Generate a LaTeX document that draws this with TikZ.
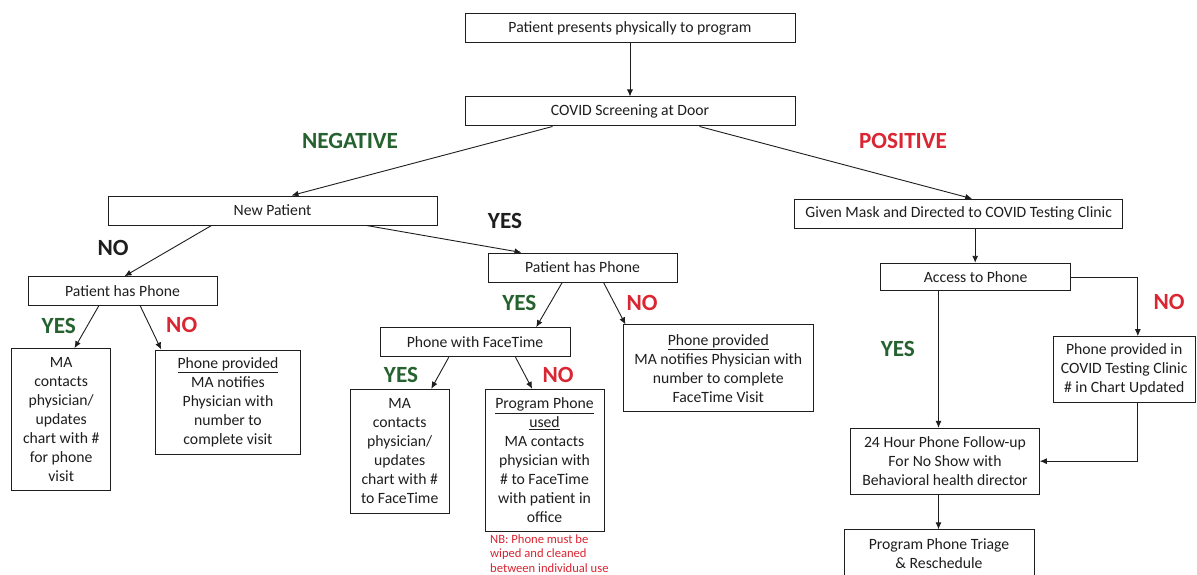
\documentclass[tikz,border=0pt]{standalone}
\usepackage{fontspec}
\setmainfont{Carlito}
\usetikzlibrary{arrows.meta,calc}
\definecolor{dgreen}{RGB}{38,98,48}
\definecolor{dred}{RGB}{218,37,50}
\definecolor{ink}{RGB}{30,30,30}
\begin{document}
\begin{tikzpicture}[x=1pt,y=-1pt,
 box/.style={draw=ink, line width=1pt, inner sep=0pt, align=center, text=ink, font=\fontsize{15.7}{19}\selectfont},
 conn/.style={draw=ink, line width=0.9pt, -{Latex[length=7pt,width=6pt]}},
 lab/.style={inner sep=0pt, font=\fontsize{23.2}{23}\selectfont\bfseries},
 yes/.style={lab, text=dgreen},
 no/.style={lab, text=dred},
 blk/.style={lab, text=ink}]
\clip (0,0) rectangle (1197,575);
\useasboundingbox (0,0) rectangle (1197,575);
\fill[white] (0,0) rectangle (1197,575);

% boxes
\node[box, minimum width=330pt, minimum height=29pt] (top) at (630,28.5) {Patient presents physically to program};
\node[box, minimum width=330pt, minimum height=29pt] (scr) at (630,111.5) {COVID Screening at Door};
\node[box, minimum width=329pt, minimum height=29pt] (np) at (272.5,210.5) {New Patient};
\node[box, minimum width=328pt, minimum height=29pt] (gm) at (958.7,213.7) {Given Mask and Directed to COVID Testing Clinic};
\node[box, minimum width=189pt, minimum height=28.6pt] (lphp) at (122.5,291) {Patient has Phone};
\node[box, minimum width=189pt, minimum height=29pt] (mphp) at (582.5,267.5) {Patient has Phone};
\node[box, minimum width=190pt, minimum height=29pt] (pwf) at (475,342.2) {Phone with FaceTime};
\node[box, minimum width=190pt, minimum height=86.7pt] (mpp) at (718.3,368.3) {\underline{Phone provided}\\MA notifies Physician with\\number to complete\\FaceTime Visit};
\node[box, minimum width=99pt, minimum height=142.3pt] (lma) at (61.2,419.8) {MA\\contacts\\physician/\\updates\\chart with \#\\for phone\\visit};
\node[box, minimum width=145.4pt, minimum height=104.3pt] (lpp) at (228,402.2) {\underline{Phone provided}\\MA notifies\\Physician with\\number to\\complete visit};
\node[box, minimum width=99.3pt, minimum height=124pt] (fma) at (399.7,451.3) {MA\\contacts\\physician/\\updates\\chart with \#\\to FaceTime};
\node[box, minimum width=119pt, minimum height=142.3pt] (pp) at (544.5,460.5) {\underline{Program Phone}\\\underline{used}\\MA contacts\\physician with\\\# to FaceTime\\with patient in\\office};
\node[box, minimum width=190pt, minimum height=27.4pt] (acc) at (975.7,277) {Access to Phone};
\node[box, minimum width=141.7pt, minimum height=66pt] (ppc) at (1124.2,369.7) {Phone provided in\\COVID Testing Clinic\\\# in Chart Updated};
\node[box, minimum width=188.6pt, minimum height=65.7pt] (hr) at (945,461.2) {24 Hour Phone Follow-up\\For No Show with\\Behavioral health director};
\node[box, minimum width=190pt, minimum height=48pt, anchor=north] (tri) at (939,529.3) {Program Phone Triage\\\& Reschedule};

% note
\node[anchor=north west, inner sep=0pt, align=left, text=dred, font=\fontsize{12.6}{14.3}\selectfont] (nb) at (490,534.5) {NB: Phone must be\\wiped and cleaned\\between individual use};

% labels
\node[yes] (lneg) at (350,141) {NEGATIVE};
\node[no] (lpos) at (903,141) {POSITIVE};
\node[blk] (lno1) at (113,247.5) {NO};
\node[blk] (lyes1) at (505,221) {YES};
\node[yes] (lyes2) at (58.8,326) {YES};
\node[no] (lno2) at (181.7,325) {NO};
\node[yes] (lyes3) at (519.3,302.5) {YES};
\node[no] (lno3) at (642,302.5) {NO};
\node[yes] (lyes4) at (401,375) {YES};
\node[no] (lno4) at (558,374.7) {NO};
\node[no] (lno5) at (1169,301.5) {NO};
\node[yes] (lyes5) at (897.8,349) {YES};

% connectors
\draw[conn] (top.south) -- (scr.north);
\draw[conn] ($(scr.south west)+(88,0)$) -- ($(np.north west)+(184,0)$);
\draw[conn] ($(scr.south west)+(235,0)$) -- ($(gm.north west)+(178,0)$);
\draw[conn] ($(np.south west)+(104,0)$) -- ($(lphp.north west)+(97,0)$);
\draw[conn] ($(np.south west)+(259,0)$) -- ($(mphp.north west)+(34,0)$);
\draw[conn] ($(lphp.south west)+(71.3,0)$) -- ($(lma.north west)+(63.3,0)$);
\draw[conn] ($(lphp.south west)+(112.7,0)$) -- ($(lpp.north west)+(6.4,0)$);
\draw[conn] ($(mphp.south west)+(74.7,0)$) -- ($(pwf.north west)+(156.7,0)$);
\draw[conn] ($(mphp.south west)+(116,0)$) -- ($(mpp.north west)+(2.7,0)$);
\draw[conn] ($(pwf.south west)+(69.3,0)$) -- ($(fma.north west)+(81.7,0)$);
\draw[conn] ($(pwf.south west)+(136,0)$) -- ($(pp.north west)+(47.7,0)$);
\draw[conn] ($(gm.south west)+(181,0)$) -- ($(acc.north west)+(95,0)$);
\draw[conn] ($(acc.south west)+(58.3,0)$) -- ($(hr.north west)+(88.3,0)$);
\draw[conn] (acc.east) -| ($(ppc.north west)+(85,0)$);
\draw[conn] ($(ppc.south west)+(85,0)$) |- (hr.east);
\draw[conn] ($(hr.south west)+(88.3,0)$) -- ($(tri.north west)+(95,0)$);
\end{tikzpicture}
\end{document}
